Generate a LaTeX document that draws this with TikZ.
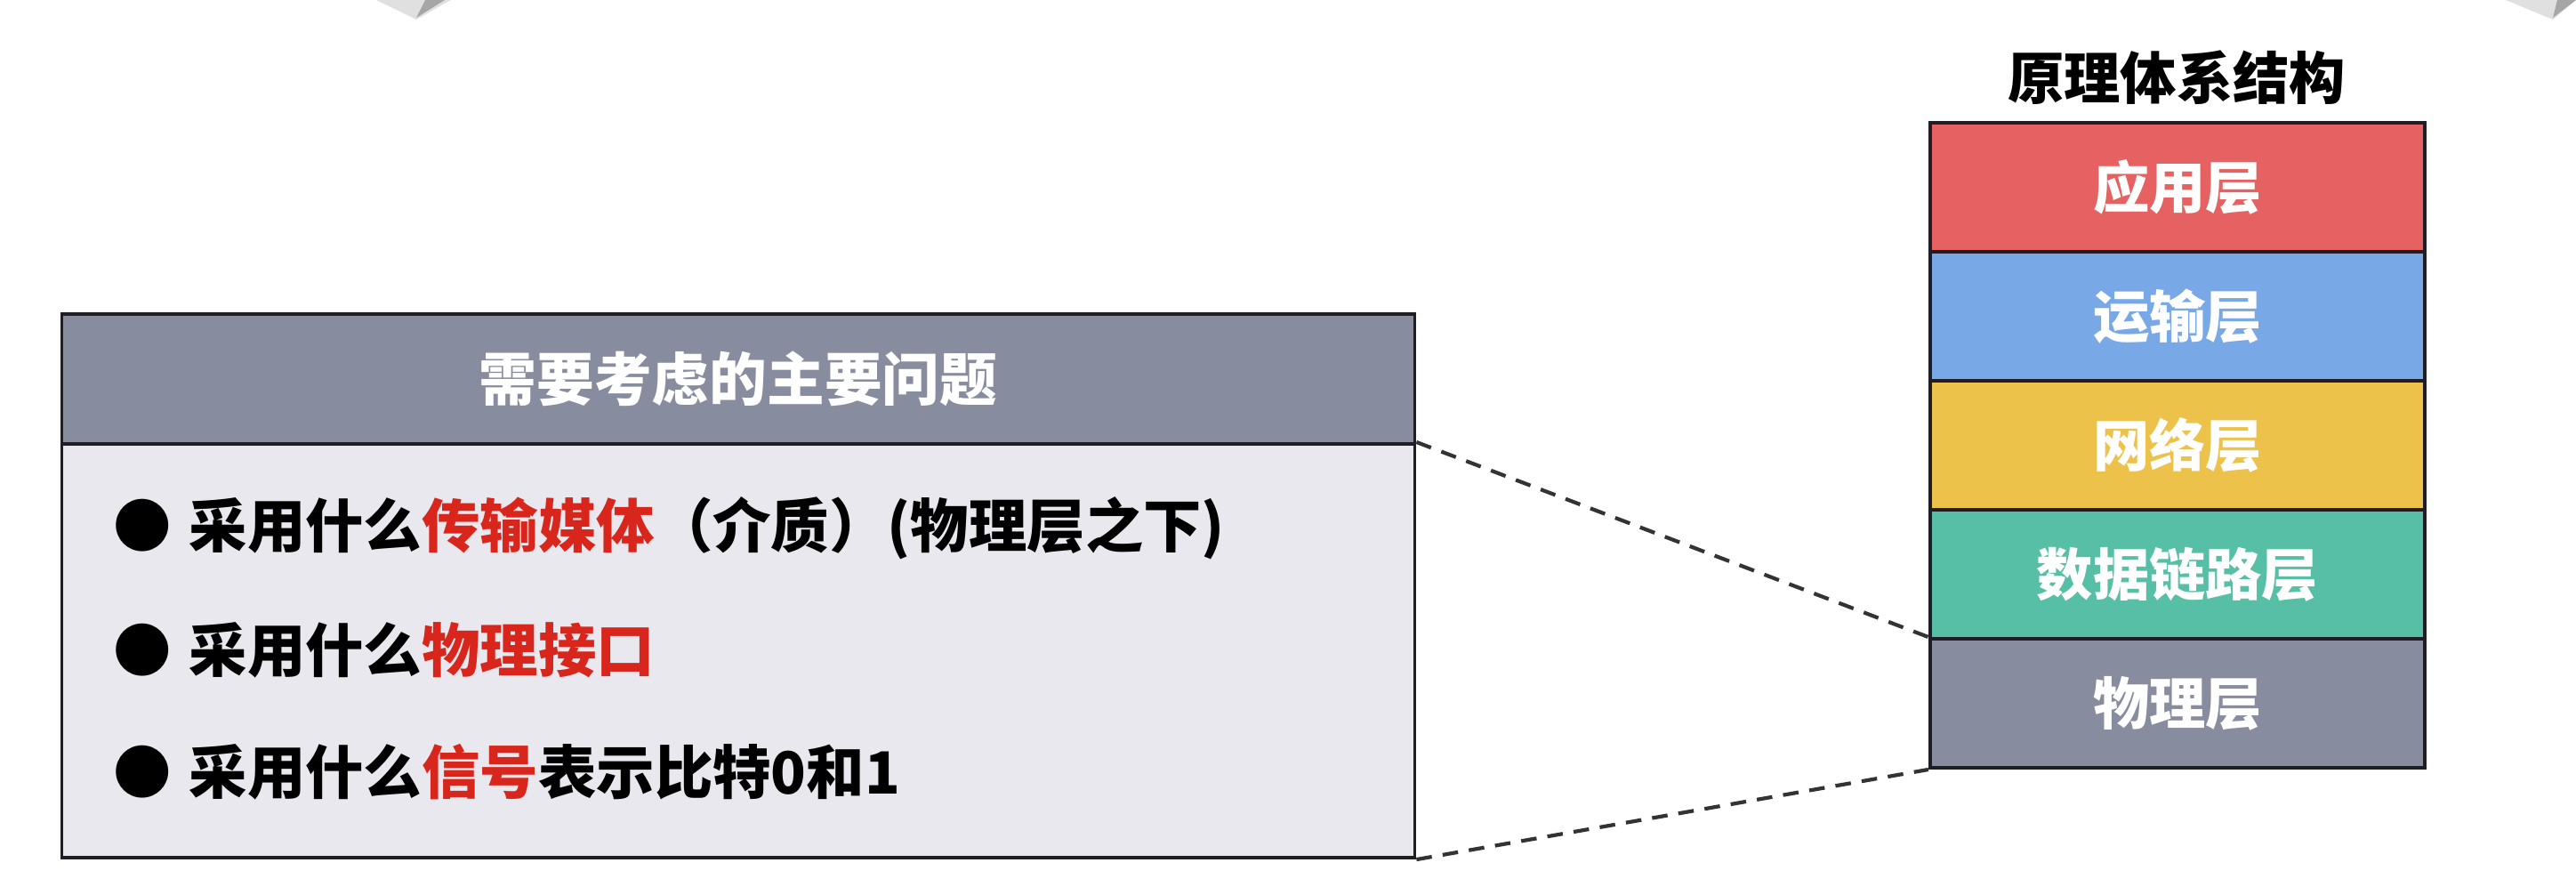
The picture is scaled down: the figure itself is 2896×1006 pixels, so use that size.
\documentclass[tikz,border=0pt]{standalone}
\usepackage{fontspec}
\setmainfont{Noto Sans CJK SC}
\definecolor{layred}{HTML}{E66161}
\definecolor{layblue}{HTML}{79A8E6}
\definecolor{layyellow}{HTML}{ECC24A}
\definecolor{laygreen}{HTML}{57BFA5}
\definecolor{laygray}{HTML}{878C9E}
\definecolor{boxbody}{HTML}{E8E8EE}
\definecolor{hired}{HTML}{D9261C}
\definecolor{edge}{HTML}{1E1E24}
\begin{document}
\begin{tikzpicture}[x=0.01cm,y=-0.01cm,
  layer/.style={draw=edge, line width=1.1pt, minimum width=5.56cm, minimum height=1.45cm,
    inner sep=0pt, text=white, font=\fontsize{18}{20}\selectfont\bfseries},
  panel/.style={draw=edge, line width=1.1pt, minimum width=15.2cm, inner sep=0pt},
  item/.style={anchor=west, inner sep=0pt, font=\fontsize{18.6}{20}\selectfont\bfseries},
  zoomline/.style={dashed, dash pattern=on 5pt off 3.5pt, line width=1.2pt, draw=black!80}]
\useasboundingbox (0,0) rectangle (2896,1006);
% corner artifacts
\fill[black!12] (423,0) -- (507,0) -- (468,22) -- cycle;
\fill[black!35] (478,0) -- (500,0) -- (468,20) -- cycle;
\fill[black!12] (2817,0) -- (2896,0) -- (2870,22) -- cycle;
\fill[black!35] (2875,0) -- (2896,0) -- (2870,20) -- cycle;
% title
\node[font=\fontsize{18}{20}\selectfont\bfseries, inner sep=0pt] (title) at (2447,87) {原理体系结构};
% stack
\node[layer, fill=layred]    (app)  at (2448,210.5) {应用层};
\node[layer, fill=layblue]   (tra)  at (2448,355.5) {运输层};
\node[layer, fill=layyellow] (net)  at (2448,500.5) {网络层};
\node[layer, fill=laygreen]  (dll)  at (2448,645.5) {数据链路层};
\node[layer, fill=laygray]   (phy)  at (2448,790.5) {物理层};
% left panel
\node[panel, fill=laygray, minimum height=1.46cm, text=white,
      font=\fontsize{18.4}{20}\selectfont\bfseries] (head) at (830,426) {需要考虑的主要问题};
\node[panel, fill=boxbody, minimum height=4.65cm] (body) at (830,731.5) {};
\node[item] (i1) at (127,594) {●\hspace{0.3em}采用什么\textcolor{hired}{传输媒体}（介质）(物理层之下)};
\node[item] (i2) at (127,731) {●\hspace{0.3em}采用什么\textcolor{hired}{物理接口}};
\node[item] (i3) at (127,868) {●\hspace{0.3em}采用什么\textcolor{hired}{信号}表示比特0和1};
% zoom lines
\draw[zoomline] (body.north east) -- (phy.north west);
\draw[zoomline] (body.south east) -- (phy.south west);
\end{tikzpicture}
\end{document}
